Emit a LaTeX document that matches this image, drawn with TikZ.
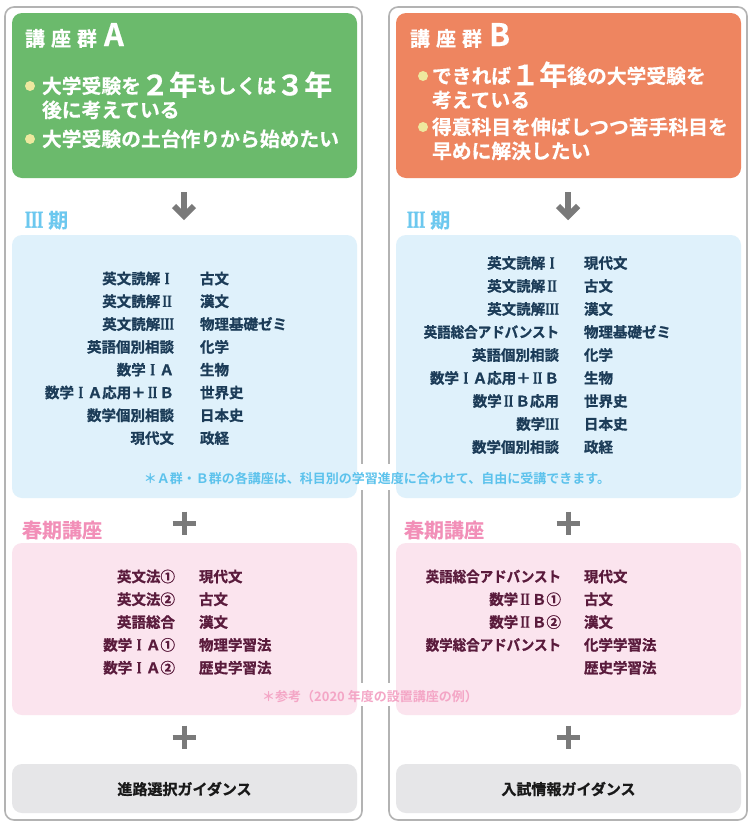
\documentclass[tikz,border=0pt]{standalone}
\usepackage{fontspec}
\newfontfamily\jp{Noto Sans CJK JP}[BoldFont={Noto Sans CJK JP Bold}]
\newfontfamily\jpH{Noto Sans CJK JP Bold}[FakeBold=1]
\newfontfamily\jpT{Noto Sans CJK JP Bold}[FakeBold=0.5]
\newfontfamily\rn{Liberation Serif}[FakeBold=0.6]
\newfontfamily\rnH{Liberation Serif}[FakeBold=1.5]
\newcommand\fsz[1]{\fontsize{#1pt}{#1pt}\selectfont}
\newcommand\RN[1]{\makebox[0.95em]{\rn\bfseries\fsz{17}\scalebox{0.7}[1]{#1}}}
\newcommand\KT[1]{\scalebox{0.93}[1]{#1}}
\definecolor{panelgray}{HTML}{B3B3B3}
\definecolor{hdrgreen}{HTML}{6BBA6C}
\definecolor{hdrorange}{HTML}{EE8560}
\definecolor{bulletyel}{HTML}{EEE89E}
\definecolor{bluebox}{HTML}{DFF1FB}
\definecolor{bluehead}{HTML}{6CC8EF}
\definecolor{bluenote}{HTML}{5CC2EC}
\definecolor{navytext}{HTML}{1C3C58}
\definecolor{pinkbox}{HTML}{FBE4EE}
\definecolor{pinkhead}{HTML}{F28FB8}
\definecolor{pinknote}{HTML}{F4A6C6}
\definecolor{maroontext}{HTML}{5A1B3C}
\definecolor{graybox}{HTML}{E6E6E8}
\definecolor{symgray}{HTML}{7A7A7A}
\tikzset{
  every node/.style={inner sep=0pt, outer sep=0pt},
  panel/.style={draw=panelgray, line width=1.6pt, rounded corners=9pt, fill=white},
  card/.style={rounded corners=10pt},
  hdrtitle/.style={anchor=base west, text=white, font=\jpT\fsz{20}},
  hdrline/.style={anchor=base west, text=white, font=\jpT\fsz{19.8}},
  bulletdot/.style={fill=bulletyel},
  sechead/.style={anchor=base west, font=\jpT\fsz{20}},
  listL/.style={anchor=base east, font=\jpH\fsz{14.5}},
  listR/.style={anchor=base west, font=\jpH\fsz{14.5}},
  notetext/.style={anchor=base, font=\jp\bfseries\fsz{13}},
  guide/.style={font=\jpH\fsz{15}, text=black!90},
  symline/.style={draw=symgray, line width=6pt},
  plusline/.style={draw=symgray, line width=5pt},
}
\begin{document}
\begin{tikzpicture}[x=1pt,y=-1pt]
\useasboundingbox (0,0) rectangle (750,825);
\fill[white] (0,0) rectangle (750,825);
% panels
\draw[panel] (5,7) rectangle (362,820);
\draw[panel] (389,7) rectangle (747,820);
% gaps in panel borders behind notes
\fill[white] (358,464) rectangle (393,490);
\fill[white] (358,683) rectangle (393,706);
% header cards
\fill[card, hdrgreen] (12,13) rectangle (357,178);
\fill[card, hdrorange] (396,13) rectangle (741,178);
% header A
\node[hdrtitle] (tA) at (25,46) {講\hspace{6pt}座\hspace{6pt}群\hspace{7pt}{\fsz{31}A}};
\fill[bulletdot] (30,86) circle (5);
\node[hdrline] (a1) at (42,93.4) {大学受験を\raisebox{-2pt}{\fsz{28}２年}もしくは\raisebox{-2pt}{\fsz{28}３年}};
\node[hdrline] (a2) at (42,117.4) {後に考えている};
\fill[bulletdot] (30,139) circle (5);
\node[hdrline] (a3) at (42,146.4) {大学受験の土台作りから始めたい};
% header B
\node[hdrtitle] (tB) at (410,46) {講\hspace{6pt}座\hspace{6pt}群\hspace{7pt}{\fsz{31}B}};
\fill[bulletdot] (423,76) circle (5);
\node[hdrline] (b1) at (432,83.4) {できれば\raisebox{-2pt}{\fsz{28}１年}後の大学受験を};
\node[hdrline] (b2) at (432,107.4) {考えている};
\fill[bulletdot] (423,127) circle (5);
\node[hdrline] (b3) at (432,134.4) {得意科目を伸ばしつつ苦手科目を};
\node[hdrline] (b4) at (432,158.4) {早めに解決したい};
% arrows
\foreach \cx/\nm in {184/A,568/B}{
  \draw[symline] (\cx,192) -- (\cx,214);
  \draw[symline, line join=miter] (\cx-10,206) -- (\cx,216) -- (\cx+10,206);
}
% section headings III
\node[sechead, text=bluehead] (h3A) at (25,227.6) {{\rnH\bfseries\fsz{24}\scalebox{0.65}[1]{III}}\hspace{5pt}期};
\node[sechead, text=bluehead] (h3B) at (407,227.6) {{\rnH\bfseries\fsz{24}\scalebox{0.65}[1]{III}}\hspace{5pt}期};
% blue cards
\fill[card, bluebox] (12,235) rectangle (357,498);
\fill[card, bluebox] (396,235) rectangle (741,498);
% left blue list
\foreach \t [count=\i] in {英文読解\RN{I},英文読解\RN{II},英文読解\RN{III},英語個別相談,数学\RN{I}Ａ,数学\RN{I}Ａ応用＋\RN{II}Ｂ,数学個別相談,現代文}
  \node[listL, text=navytext] (aL\i) at (174,{278.5+22.8*(\i-1)+5.5}) {\t};
\foreach \t [count=\i] in {古文,漢文,物理基礎ゼミ,化学,生物,世界史,日本史,政経}
  \node[listR, text=navytext] (aR\i) at (200,{278.5+22.8*(\i-1)+5.5}) {\t};
% right blue list
\foreach \t [count=\i] in {英文読解\RN{I},英文読解\RN{II},英文読解\RN{III},\KT{英語総合アドバンスト},英語個別相談,数学\RN{I}Ａ応用＋\RN{II}Ｂ,数学\RN{II}Ｂ応用,数学\RN{III},数学個別相談}
  \node[listL, text=navytext] (bL\i) at (559,{263+23*(\i-1)+5.5}) {\t};
\foreach \t [count=\i] in {現代文,古文,漢文,物理基礎ゼミ,化学,生物,世界史,日本史,政経}
  \node[listR, text=navytext] (bR\i) at (584,{263+23*(\i-1)+5.5}) {\t};
% blue note
\node[notetext, text=bluenote] (noteB) at (377,483) {＊Ａ群・Ｂ群の各講座は、科目別の学習進度に合わせて、自由に受講できます。};
% plus signs
\foreach \cx in {184,568}{
  \foreach \cy in {523,737}{
    \draw[plusline] (\cx-11.5,\cy) -- (\cx+11.5,\cy);
    \draw[plusline] (\cx,\cy-11.5) -- (\cx,\cy+11.5);
  }
}
% spring headings
\node[sechead, text=pinkhead] (sA) at (22,537.6) {春期講座};
\node[sechead, text=pinkhead] (sB) at (404,537.6) {春期講座};
% pink cards
\fill[card, pinkbox] (12,543) rectangle (357,715);
\fill[card, pinkbox] (396,543) rectangle (741,715);
\foreach \t [count=\i] in {英文法①,英文法②,英語総合,数学\RN{I}Ａ①,数学\RN{I}Ａ②}
  \node[listL, text=maroontext] (pL\i) at (175,{576.5+22.8*(\i-1)+5.5}) {\t};
\foreach \t [count=\i] in {現代文,古文,漢文,物理学習法,歴史学習法}
  \node[listR, text=maroontext] (pR\i) at (199,{576.5+22.8*(\i-1)+5.5}) {\t};
\foreach \t [count=\i] in {\KT{英語総合アドバンスト},数学\RN{II}Ｂ①,数学\RN{II}Ｂ②,\KT{数学総合アドバンスト}}
  \node[listL, text=maroontext] (qL\i) at (561,{576.5+22.8*(\i-1)+5.5}) {\t};
\foreach \t [count=\i] in {現代文,古文,漢文,化学学習法,歴史学習法}
  \node[listR, text=maroontext] (qR\i) at (584,{576.5+22.8*(\i-1)+5.5}) {\t};
% pink note
\node[notetext, text=pinknote] (noteP) at (370,701.8) {＊参考（2020 年度の設置講座の例）};
% guidance cards
\fill[card, graybox] (12,764) rectangle (357,813);
\fill[card, graybox] (396,764) rectangle (741,813);
\node[guide] (gA) at (184.5,789) {進路選択ガイダンス};
\node[guide] (gB) at (568.5,789) {入試情報ガイダンス};
\end{tikzpicture}
\end{document}
